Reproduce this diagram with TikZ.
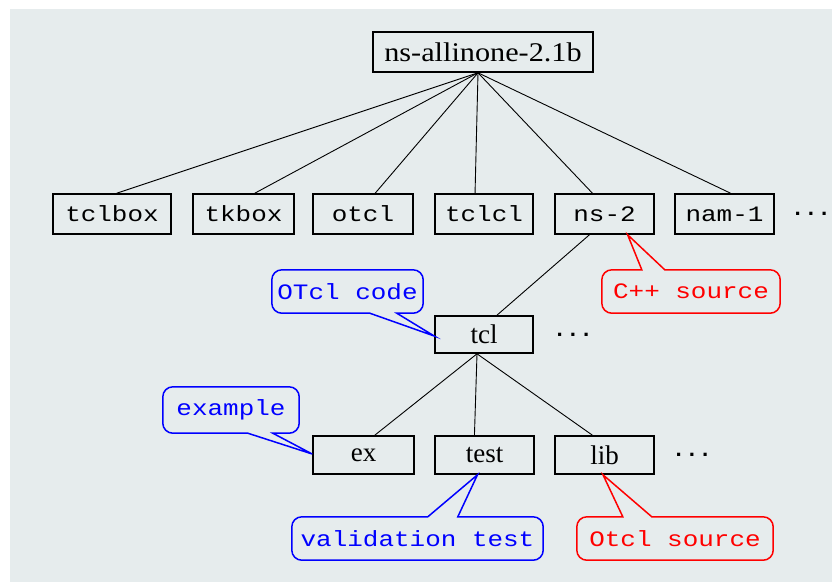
\documentclass[tikz,border=0pt]{standalone}
\usepackage{fontspec}
\setmainfont{Liberation Serif}
\newfontfamily\monof[FakeStretch=1.18]{Liberation Mono}
\newfontfamily\dotsf{Liberation Mono}
\newfontfamily\rootf[FakeStretch=1.12]{Liberation Serif}
\usetikzlibrary{calc}
\definecolor{paper}{RGB}{230,236,237}
\definecolor{noteblue}{RGB}{0,0,255}
\definecolor{notered}{RGB}{255,0,0}

\begin{document}
\begin{tikzpicture}[x=1pt,y=-1pt,
  dirbox/.style={draw=black, line width=1.6pt, inner sep=0pt, minimum height=40pt},
  monotext/.style={font=\monof\fontsize{22}{22}\selectfont},
  seriftext/.style={font=\fontsize{27}{27}\selectfont},
  dotstext/.style={font=\dotsf\bfseries\fontsize{22}{22}\selectfont, inner sep=0pt},
  link/.style={draw=black, line width=0.9pt},
  notetext/.style={monotext, inner sep=0pt, minimum height=43pt},
  noteline/.style={line width=1.5pt},
]
% canvas
\useasboundingbox (0,0) rectangle (832,582);
\fill[paper] (10,9) rectangle (832,582);

% directory tree
\node[dirbox, minimum width=220pt, font=\rootf\fontsize{27}{27}\selectfont] (root) at (483,52) {ns-allinone-2.1b};

\node[dirbox, monotext, minimum width=118pt] (tclbox) at (112,214) {tclbox};
\node[dirbox, monotext, minimum width=101pt] (tkbox) at (243.5,214) {tkbox};
\node[dirbox, monotext, minimum width=100pt] (otcl) at (363,214) {otcl};
\node[dirbox, monotext, minimum width=98pt] (tclcl) at (484,214) {tclcl};
\node[dirbox, monotext, minimum width=99pt] (ns2) at (604.5,214) {ns-2};
\node[dirbox, monotext, minimum width=99pt] (nam1) at (724.5,214) {nam-1};
\node[dotstext] (dots1) at (811,214) {...};

\node[dirbox, seriftext, minimum width=98pt, minimum height=37pt] (tcl) at (484,334.5) {tcl};
\node[dotstext] (dots2) at (573,335) {...};

\node[dirbox, seriftext, minimum width=101pt, minimum height=38pt] (ex) at (363.5,455) {ex};
\node[dirbox, seriftext, minimum width=99pt, minimum height=38pt] (test) at (484.5,455) {test};
\node[dirbox, seriftext, minimum width=99pt, minimum height=38pt] (lib) at (604.5,455) {lib};
\node[dotstext] (dots3) at (692,455) {...};

% tree edges
\coordinate (hub) at ($(root.south)+(-5,0)$);
\draw[link] (hub) -- ($(tclbox.north west)!0.54!(tclbox.north east)$);
\draw[link] (hub) -- ($(tkbox.north west)!0.61!(tkbox.north east)$);
\draw[link] (hub) -- ($(otcl.north west)!0.62!(otcl.north east)$);
\draw[link] (hub) -- ($(tclcl.north west)!0.41!(tclcl.north east)$);
\draw[link] (hub) -- ($(ns2.north west)!0.38!(ns2.north east)$);
\draw[link] (hub) -- ($(nam1.north west)!0.56!(nam1.north east)$);

\draw[link] ($(ns2.south west)!0.35!(ns2.south east)$) -- ($(tcl.north west)!0.63!(tcl.north east)$);

\coordinate (tclhub) at ($(tcl.south)+(-7,0)$);
\draw[link] (tclhub) -- ($(ex.north west)!0.61!(ex.north east)$);
\draw[link] (tclhub) -- ($(test.north west)!0.4!(test.north east)$);
\draw[link] (tclhub) -- ($(lib.north west)!0.38!(lib.north east)$);

% callout notes: rounded outline, sharp wedge pointing at the directory
\node[notetext, text=noteblue, minimum width=151pt] (nOTcl) at (347.5,291.5) {OTcl code};
\draw[noteblue, noteline] (nOTcl.west) [rounded corners=10pt] -- (nOTcl.south west) [sharp corners]
  -- ($(nOTcl.south west)+(98,0)$) -- ($(tcl.west)+(0,1.5)$)
  -- ($(nOTcl.south west)+(125,0)$) [rounded corners=10pt] -- (nOTcl.south east)
  -- (nOTcl.north east) -- (nOTcl.north west) -- cycle;

\node[notetext, text=noteblue, minimum width=136pt, minimum height=46pt] (nEx) at (231,410) {example};
\draw[noteblue, noteline] (nEx.west) [rounded corners=10pt] -- (nEx.south west) [sharp corners]
  -- ($(nEx.south west)+(85,0)$) -- ($(ex.west)+(0,-1)$)
  -- ($(nEx.south west)+(110,0)$) [rounded corners=10pt] -- (nEx.south east)
  -- (nEx.north east) -- (nEx.north west) -- cycle;

\node[notetext, text=notered, minimum width=178pt] (nCpp) at (691,291.5) {C++ source};
\draw[notered, noteline] (nCpp.west) [rounded corners=10pt] -- (nCpp.north west) [sharp corners]
  -- ($(nCpp.north west)+(40,0)$) -- ($(ns2.south west)!0.73!(ns2.south east)$)
  -- ($(nCpp.north west)+(63,0)$) [rounded corners=10pt] -- (nCpp.north east)
  -- (nCpp.south east) -- (nCpp.south west) -- cycle;

\node[notetext, text=noteblue, minimum width=251pt] (nVal) at (417.5,538.5) {validation test};
\draw[noteblue, noteline] (nVal.west) [rounded corners=10pt] -- (nVal.north west) [sharp corners]
  -- ($(nVal.north west)+(136,0)$) -- ($(test.south west)!0.43!(test.south east)$)
  -- ($(nVal.north west)+(166,0)$) [rounded corners=10pt] -- (nVal.north east)
  -- (nVal.south east) -- (nVal.south west) -- cycle;

\node[notetext, text=notered, minimum width=196pt] (nSrc) at (675,538.5) {Otcl source};
\draw[notered, noteline] (nSrc.west) [rounded corners=10pt] -- (nSrc.north west) [sharp corners]
  -- ($(nSrc.north west)+(46,0)$) -- ($(lib.south west)!0.485!(lib.south east)$)
  -- ($(nSrc.north west)+(75,0)$) [rounded corners=10pt] -- (nSrc.north east)
  -- (nSrc.south east) -- (nSrc.south west) -- cycle;
\end{tikzpicture}
\end{document}
